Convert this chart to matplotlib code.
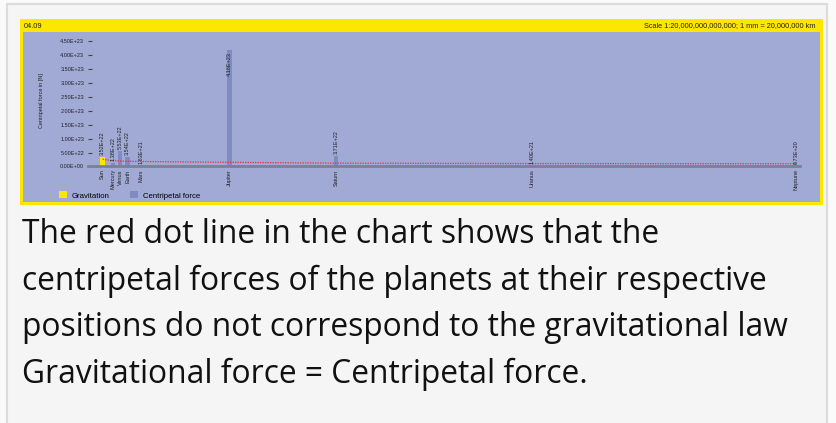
import matplotlib
matplotlib.use("Agg")
import matplotlib.pyplot as plt
from matplotlib.patches import Rectangle, Patch

# ---------------- data ----------------
bodies = ["Sun", "Mercury", "Venus", "Earth", "Mars", "Jupiter", "Saturn", "Uranus", "Neptune"]
# distance along the chart axis (approx. AU)
distance = [0.0, 0.41, 0.70, 1.00, 1.52, 5.07, 9.33, 17.17, 27.73]
gravitation = [3.52e22, 0, 0, 0, 0, 0, 0, 0, 0]
centripetal = [0, 1.38e22, 5.53e22, 3.54e22, 1.63e21, 4.16e23, 3.71e22, 1.40e21, 6.73e20]
red_line = [2.6e22, 2.1e22, 1.95e22, 1.9e22, 1.8e22, 1.5e22, 1.2e22, 1.05e22, 1.0e22]
y_ticks = [0, 5e22, 1e23, 1.5e23, 2e23, 2.5e23, 3e23, 3.5e23, 4e23, 4.5e23]

header_left = "04.09"
header_right = "Scale 1:20,000,000,000,000; 1 mm = 20,000,000 km"
y_label = "Centripetal force in [N]"
legend_labels = ["Gravitation", "Centripetal force"]
caption = ["The red dot line in the chart shows that the",
           "centripetal forces of the planets at their respective",
           "positions do not correspond to the gravitational law",
           "Gravitational force = Centripetal force."]

# ---------------- style ----------------
W, H = 836, 423
YELLOW = "#ffe600"
PANEL = "#a0aad5"
BAR = "#7f8cc4"
AXIS = "#7c8096"
RED = "#e0303c"
TXT = "#222222"
SMALL = 4.0
FONT = "Liberation Sans"

def fx(px):
    return px / W

def fy(py):
    return 1 - py / H

fig = plt.figure(figsize=(W / 100, H / 100), dpi=100)
fig.patch.set_facecolor("#fafafa")

# card
fig.patches.append(Rectangle((fx(7), fy(430)), fx(827) - fx(7), fy(4) - fy(430),
                             transform=fig.transFigure, facecolor="#f5f5f5",
                             edgecolor="#dcdcdc", linewidth=1.5, zorder=-3))
# yellow frame
fig.patches.append(Rectangle((fx(20), fy(205)), fx(823) - fx(20), fy(19) - fy(205),
                             transform=fig.transFigure, facecolor=YELLOW,
                             edgecolor="none", zorder=-2))
# blue panel
fig.patches.append(Rectangle((fx(23), fy(202)), fx(820) - fx(23), fy(32) - fy(202),
                             transform=fig.transFigure, facecolor=PANEL,
                             edgecolor="none", zorder=-1))

fig.text(fx(24), fy(26), header_left, fontsize=5.3, family=FONT, color=TXT,
         ha="left", va="center")
fig.text(fx(815), fy(26), header_right, fontsize=5.3, family=FONT, color=TXT,
         ha="right", va="center")

# axes: left 88px, right 800px, bottom (zero) 166.5px, top 36px
x_left_px, x_right_px = 88, 800
y_zero_px, y_top_px = 166.5, 36
sun_px, px_per_unit = 102.7, 25.0
px_per_N = 125.5 / 4.5e23

ax = fig.add_axes([fx(x_left_px), fy(y_zero_px), fx(x_right_px) - fx(x_left_px),
                   fy(y_top_px) - fy(y_zero_px)])
ax.set_facecolor("none")
ax.set_xlim((x_left_px - sun_px) / px_per_unit, (x_right_px - sun_px) / px_per_unit)
ax.set_ylim(0, (y_zero_px - y_top_px) / px_per_N)
for s in ax.spines.values():
    s.set_visible(False)

bw = 4.5 / px_per_unit
ax.bar(distance, gravitation, width=bw, color=YELLOW, zorder=2)
ax.bar(distance, centripetal, width=bw, color=BAR, zorder=2)
ax.axhline(0, color=AXIS, linewidth=2, zorder=3, clip_on=False)
ax.plot(distance, red_line, color=RED, linewidth=0.9, linestyle=(0, (1, 1)), zorder=4)

ax.set_yticks(y_ticks)
ax.set_yticklabels([f"{v:.2E}" for v in y_ticks], fontsize=SMALL, family=FONT, color=TXT)
ax.tick_params(axis="y", direction="in", length=3, width=0.8, color="#444444", pad=2.8)
ax.set_xticks(distance)
ax.set_xticklabels(bodies, rotation=90, fontsize=SMALL, family=FONT, color=TXT)
ax.tick_params(axis="x", length=0, pad=2)

ymax = ax.get_ylim()[1]
for d, g, c in zip(distance, gravitation, centripetal):
    v = g if g > 0 else c
    lbl = f"{v:.2E}"
    if v > 0.8 * ymax:
        ax.annotate(lbl, (d, v), xytext=(0, -1), textcoords="offset points",
                    rotation=90, ha="center", va="top", fontsize=SMALL,
                    family=FONT, color=TXT, zorder=5)
    else:
        ax.annotate(lbl, (d, v), xytext=(0, 1.5), textcoords="offset points",
                    rotation=90, ha="center", va="bottom", fontsize=SMALL,
                    family=FONT, color=TXT, zorder=5)

fig.text(fx(41), fy(101), y_label, rotation=90, fontsize=SMALL, family=FONT,
         color=TXT, ha="center", va="center")

handles = [Patch(facecolor=YELLOW, edgecolor="none"), Patch(facecolor=BAR, edgecolor="none")]
fig.legend(handles, legend_labels, loc="center left", bbox_to_anchor=(fx(59), fy(195.5)),
           ncol=2, frameon=False, prop={"family": FONT, "size": 5.6},
           handlelength=1.03, handleheight=0.96, handletextpad=0.64, columnspacing=2.6,
           borderpad=0, borderaxespad=0)

baselines = [243, 289.5, 336, 382.5]
for line, b in zip(caption, baselines):
    fig.text(fx(22), fy(b), line, fontsize=22.9, family="Open Sans", color="#111111",
             ha="left", va="baseline")

fig.savefig("out.png", dpi=100)
